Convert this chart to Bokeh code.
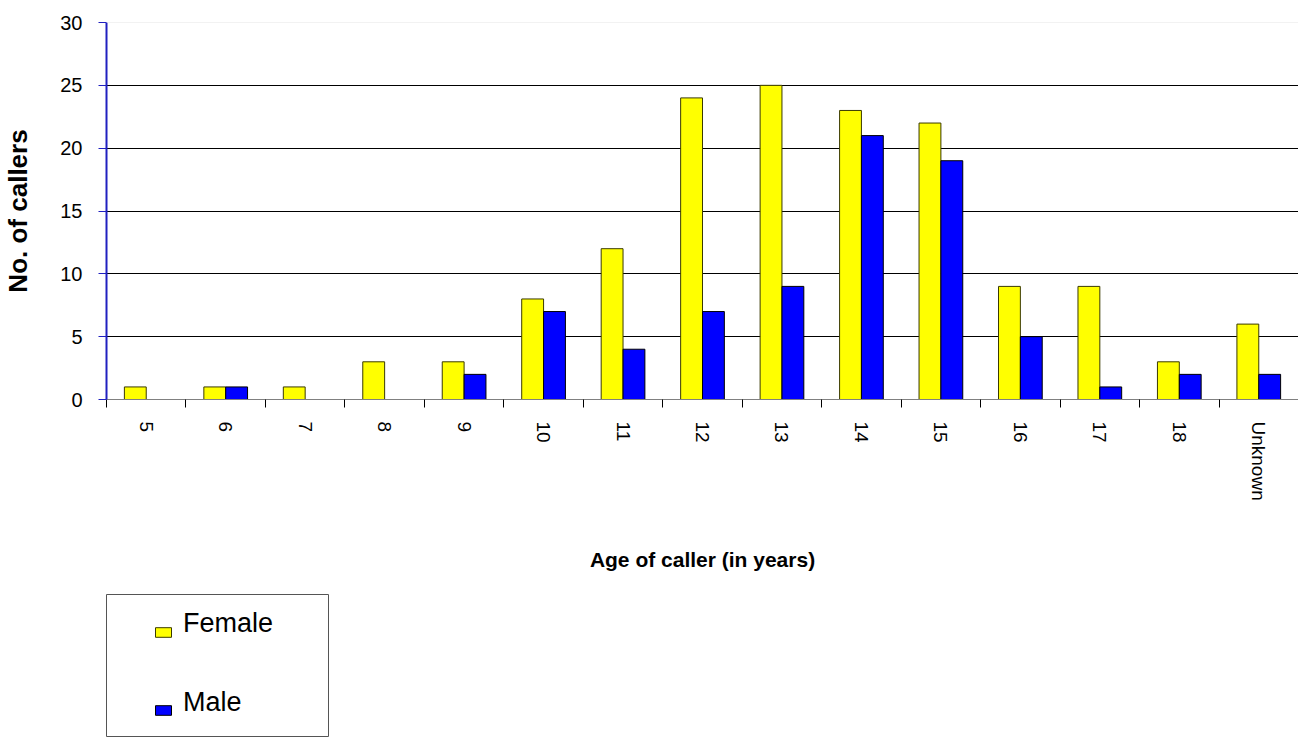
from bokeh.plotting import figure
from bokeh.models import (FixedTicker, Legend, LegendItem, Span, Range1d,
                          ColumnDataSource, Spacer)
from bokeh.layouts import column, row
from bokeh.embed import file_html
from bokeh.resources import INLINE

# ---- data ----
ages = ["5", "6", "7", "8", "9", "10", "11", "12", "13", "14", "15", "16", "17", "18", "Unknown"]
female = [1, 1, 1, 3, 3, 8, 12, 24, 25, 23, 22, 9, 9, 3, 6]
male = [0, 1, 0, 0, 2, 7, 4, 7, 9, 21, 19, 5, 1, 2, 2]
y_ticks = [0, 5, 10, 15, 20, 25, 30]
series_names = ["Female", "Male"]

FONT = "Liberation Sans"
BW = 0.275
FEM_FILL, FEM_LINE = "#ffff00", "#3a3a00"
MAL_FILL, MAL_LINE = "#0000ff", "#000000"

n = len(ages)
centers = [i + 0.5 for i in range(n)]
src = ColumnDataSource(dict(
    xf=[c - BW / 2 for c in centers],
    xm=[c + BW / 2 for c in centers],
    female=female, male=male))

p = figure(width=1298, height=594, output_backend="svg", toolbar_location=None,
           x_range=Range1d(0, n), y_range=Range1d(0, 30),
           min_border_left=106, min_border_right=0, min_border_top=22,
           min_border_bottom=195)
p.outline_line_color = None

# grid
p.xgrid.visible = False
p.ygrid.ticker = FixedTicker(ticks=[5, 10, 15, 20, 25])
p.ygrid.grid_line_color = "#000000"
p.ygrid.grid_line_width = 1
p.add_layout(Span(location=30, dimension="width", line_color="#e6e6e6", line_width=1))

p.vbar(x="xf", top="female", width=BW, bottom=0, source=src,
       fill_color=FEM_FILL, line_color=FEM_LINE, line_width=1)
p.vbar(x="xm", top="male", width=BW, bottom=0, source=src,
       fill_color=MAL_FILL, line_color=MAL_LINE, line_width=1)

# x axis
xa = p.xaxis[0]
xa.ticker = FixedTicker(ticks=centers, minor_ticks=list(range(n + 1)))
xa.major_label_overrides = {c: a for c, a in zip(centers, ages)}
xa.major_label_orientation = "vertical"
xa.major_tick_out = 0
xa.major_tick_in = 0
xa.minor_tick_out = 8
xa.minor_tick_in = 0
xa.minor_tick_line_color = "#000000"
xa.axis_line_color = "#808080"
xa.major_label_standoff = 14
xa.major_label_text_font = FONT
xa.major_label_text_font_size = "19px"
xa.major_label_text_color = "#000000"
xa.axis_label = "Age of caller (in years)"
xa.axis_label_text_font = FONT
xa.axis_label_text_font_size = "21px"
xa.axis_label_text_font_style = "bold"
xa.axis_label_text_color = "#000000"
xa.axis_label_standoff = 44

# y axis
ya = p.yaxis[0]
ya.ticker = FixedTicker(ticks=y_ticks)
ya.minor_tick_line_color = None
ya.major_tick_out = 8
ya.major_tick_in = 0
ya.major_tick_line_color = "#2020c0"
ya.axis_line_color = "#2020c0"
ya.axis_line_width = 2
ya.major_label_standoff = 16
ya.major_label_text_font = FONT
ya.major_label_text_font_size = "20px"
ya.major_label_text_color = "#000000"
ya.axis_label = "No. of callers"
ya.axis_label_text_font = FONT
ya.axis_label_text_font_size = "26px"
ya.axis_label_text_font_style = "bold"
ya.axis_label_text_color = "#000000"
ya.axis_label_standoff = 24

# legend panel (boxed)
lg = figure(width=223, height=143, output_backend="svg", toolbar_location=None,
            x_range=Range1d(0, 1), y_range=Range1d(0, 1),
            min_border=0)
lg.axis.visible = False
lg.grid.visible = False
lg.outline_line_color = "#555555"
lg.outline_line_width = 1
# legend swatches: glyphs placed outside the visible range, only used for the legend
rf = lg.vbar(x=[5], top=[5], bottom=[4], width=0.1, fill_color=FEM_FILL, line_color=FEM_LINE)
rm = lg.vbar(x=[5], top=[5], bottom=[4], width=0.1, fill_color=MAL_FILL, line_color=MAL_LINE)
blank = lg.vbar(x=[5], top=[5], bottom=[4], width=0.1, fill_alpha=0, line_alpha=0)

common = dict(orientation="vertical", glyph_width=20, glyph_height=12,
              label_standoff=10, label_height=30,
              label_text_font=FONT, label_text_font_size="27px",
              label_text_color="#000000",
              padding=0, margin=0, spacing=48,
              border_line_color=None, background_fill_alpha=0)
# swatches
leg_sw = Legend(items=[LegendItem(label=" ", renderers=[rf]),
                       LegendItem(label=" ", renderers=[rm])],
                location=(47, 12), **common)
# labels (slightly higher than the swatches, as in the original)
leg_tx = Legend(items=[LegendItem(label=series_names[0], renderers=[blank]),
                       LegendItem(label=series_names[1], renderers=[blank])],
                location=(47, 19), **common)
lg.add_layout(leg_sw)
lg.add_layout(leg_tx)

layout = column(p, row(Spacer(width=106, height=143), lg))

open("out.html", "w").write(file_html(layout, INLINE))
